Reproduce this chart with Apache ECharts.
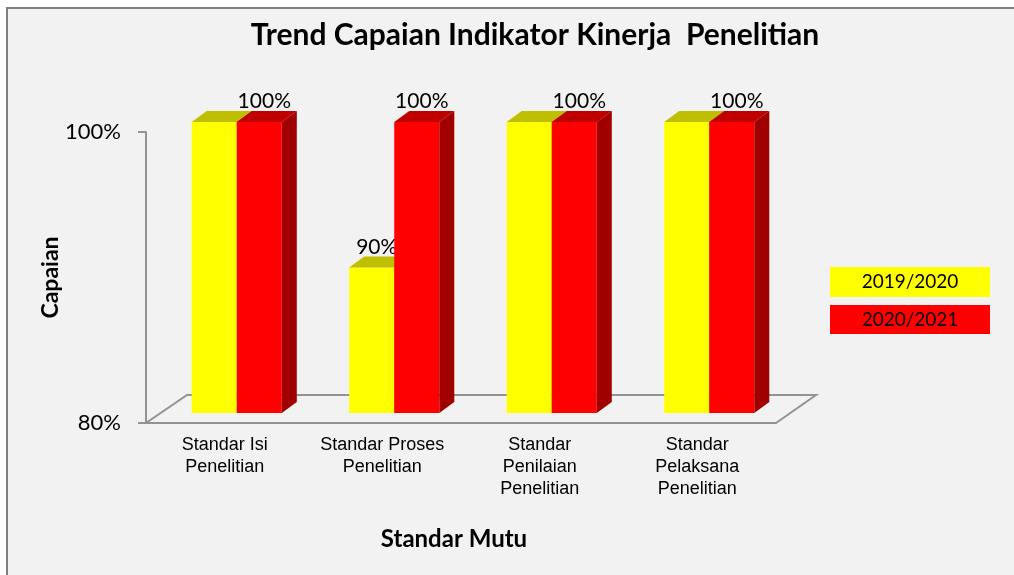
<!DOCTYPE html>
<html>
<head>
<meta charset="utf-8">
<title>Trend Capaian Indikator Kinerja Penelitian</title>
<script src="https://cdn.jsdelivr.net/npm/echarts@6/dist/echarts.min.js"></script>
<style>
html, body { margin: 0; padding: 0; background: #fff; }
#main { width: 1014px; height: 575px; }
</style>
</head>
<body>
<div id="main"></div>
<script>
// data
var categories = ['Standar Isi\nPenelitian', 'Standar Proses\nPenelitian', 'Standar\nPenilaian\nPenelitian', 'Standar\nPelaksana\nPenelitian'];
var capaian2019 = [100, 90, 100, 100];   // 2019/2020
var capaian2020 = [100, 100, 100, 100];  // 2020/2021
var seriesNames = ['2019/2020', '2020/2021'];
var yMin = 80, yMax = 100, yStep = 20;

var axisGray = '#939393';

// bar 3d: front face + top + side, drawn from the axis scales
function bar3d(pos, front, top, side, showLabel) {
    return function (params, api) {
        var cat = api.value(0), val = api.value(1);
        var p = api.coord([cat, val]);
        var b = api.coord([cat, yMin]);
        var w = api.size([1, 0])[0] * 0.286;
        var x = p[0] + 12 + (pos === 0 ? -w : 0);
        var y1 = p[1] - 10, y2 = b[1] - 10;
        var dx = 15, dy = -11;
        var kids = [
            {type: 'rect', shape: {x: x, y: y1, width: w, height: y2 - y1}, style: {fill: front}},
            {type: 'polygon', shape: {points: [[x, y1], [x + w, y1], [x + w + dx, y1 + dy], [x + dx, y1 + dy]]}, style: {fill: top}},
            {type: 'polygon', shape: {points: [[x + w, y1], [x + w + dx, y1 + dy], [x + w + dx, y2 + dy], [x + w, y2]]}, style: {fill: side}}
        ];
        if (showLabel(params.dataIndex)) {
            kids.push({
                type: 'text',
                style: {
                    text: val + '%', x: x + w / 2 + 5, y: y1 + dy + 1,
                    align: 'center', verticalAlign: 'bottom',
                    fontSize: 21, fontFamily: 'Lato', fill: '#000'
                }
            });
        }
        return {type: 'group', children: kids};
    };
}

function toData(arr) {
    return arr.map(function (v, i) { return [i, v]; });
}

var myChart = echarts.init(document.getElementById('main'));

var option = {
    animation: false,
    backgroundColor: '#fff',
    graphic: [{
        type: 'rect', z: -10, silent: true,
        shape: {x: 7, y: 8, width: 1030, height: 600},
        style: {fill: '#f2f2f2', stroke: '#7f7f7f', lineWidth: 2}
    }],
    title: {
        text: 'Trend Capaian Indikator Kinerja  Penelitian',
        left: 530, top: 15, textAlign: 'center',
        textStyle: {fontFamily: 'Lato', fontWeight: 'bold', fontSize: 30, color: '#000'}
    },
    legend: {
        orient: 'vertical', left: 820, top: 262, itemGap: 8,
        itemWidth: 0, itemHeight: 0, selectedMode: false,
        data: seriesNames,
        formatter: function (name) {
            return '{' + (name === seriesNames[0] ? 'a' : 'b') + '|' + name + '}';
        },
        textStyle: {
            rich: {
                a: {backgroundColor: '#ffff00', width: 160, height: 30, align: 'center', fontSize: 19, fontFamily: 'Lato', color: '#000'},
                b: {backgroundColor: '#ff0000', width: 160, height: 29, align: 'center', fontSize: 19, fontFamily: 'Lato', color: '#000'}
            }
        }
    },
    grid: {left: 146, right: 238, top: 132, bottom: 152},
    xAxis: {
        type: 'category',
        data: categories,
        name: 'Standar Mutu',
        nameLocation: 'middle',
        nameGap: 104,
        nameMoveOverlap: false,
        nameTextStyle: {fontFamily: 'Lato', fontWeight: 'bold', fontSize: 24, color: '#000', padding: [0, 14, 0, 0]},
        axisLine: {lineStyle: {color: axisGray, width: 2}},
        axisTick: {length: 6, lineStyle: {color: axisGray, width: 2}},
        axisLabel: {
            margin: 11, interval: 0,
            fontFamily: 'Liberation Sans', fontSize: 18, lineHeight: 22, color: '#000'
        }
    },
    yAxis: {
        type: 'value',
        min: yMin, max: yMax, interval: yStep,
        name: 'Capaian',
        nameLocation: 'middle',
        nameGap: 84,
        nameRotate: 90,
        nameMoveOverlap: false,
        nameTextStyle: {fontFamily: 'Lato', fontWeight: 'bold', fontSize: 23, color: '#000'},
        axisLine: {show: true, lineStyle: {color: axisGray, width: 2}},
        axisTick: {show: true, length: 8, lineStyle: {color: axisGray, width: 2}},
        splitLine: {show: false},
        axisLabel: {
            margin: 25, formatter: '{value}%',
            fontFamily: 'Lato', fontSize: 22, color: '#000'
        }
    },
    series: [
        {
            // lantai 3d
            type: 'custom', z: 1, silent: true,
            data: [[0, yMin]],
            renderItem: function (params, api) {
                var cs = params.coordSys;
                var bx = cs.x, by = cs.y + cs.height;
                return {
                    type: 'polyline',
                    shape: {points: [[bx, by], [bx + 41, by - 28], [bx + cs.width + 40, by - 28], [bx + cs.width, by]]},
                    style: {stroke: axisGray, lineWidth: 2, fill: null}
                };
            }
        },
        {
            name: seriesNames[0], type: 'custom', z: 2,
            itemStyle: {color: '#ffff00'},
            data: toData(capaian2019),
            renderItem: bar3d(0, '#ffff00', '#bfbf00', '#a6a600', function (i) {
                return capaian2019[i] !== capaian2020[i];
            })
        },
        {
            name: seriesNames[1], type: 'custom', z: 2,
            itemStyle: {color: '#ff0000'},
            data: toData(capaian2020),
            renderItem: bar3d(1, '#ff0000', '#c00000', '#a00000', function () { return true; })
        }
    ]
};

myChart.setOption(option);
</script>
</body>
</html>
